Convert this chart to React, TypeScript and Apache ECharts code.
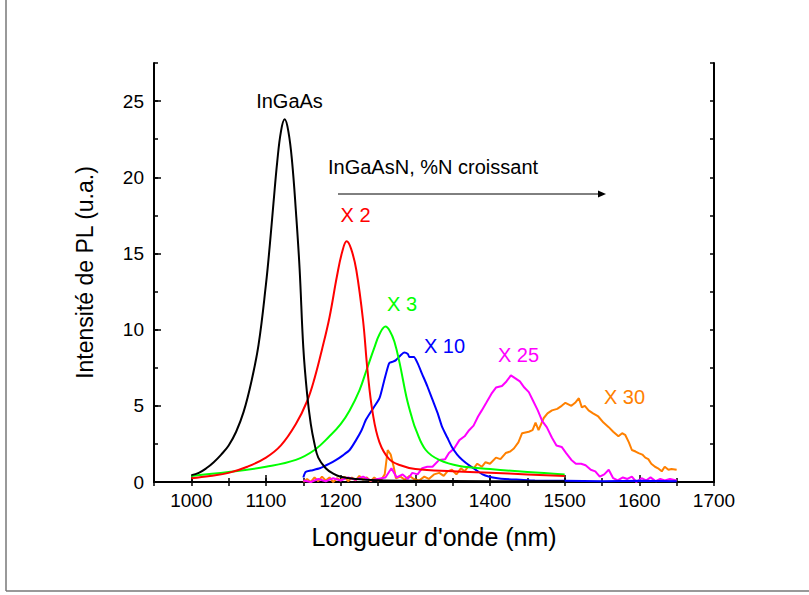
import React, { useEffect, useRef } from "react";
import * as echarts from "echarts";

// ---- Data (wavelength in nm, PL intensity in a.u.) ----
const inGaAsWl = [1000, 1010, 1020, 1030, 1040, 1050, 1060, 1070, 1080, 1090, 1100, 1105, 1110, 1115, 1120, 1125, 1130, 1135, 1140, 1145, 1150, 1155, 1160, 1165, 1170, 1180, 1190, 1200, 1220, 1250, 1300, 1400, 1500];
const inGaAsPl = [0.45, 0.6, 0.9, 1.3, 1.8, 2.4, 3.3, 4.6, 6.5, 9.0, 13.0, 15.5, 18.3, 21.0, 23.0, 23.8, 23.0, 21.0, 17.8, 14.0, 8.8, 5.8, 3.8, 2.5, 1.6, 0.9, 0.55, 0.35, 0.2, 0.12, 0.08, 0.05, 0.05];

const x2Wl = [1000, 1025, 1050, 1075, 1100, 1120, 1140, 1155, 1165, 1175, 1185, 1195, 1202, 1208, 1214, 1221, 1230, 1236, 1243, 1252, 1265, 1280, 1300, 1350, 1400, 1450, 1500];
const x2Pl = [0.25, 0.4, 0.6, 1.0, 1.6, 2.4, 3.8, 5.3, 6.8, 8.7, 10.8, 13.5, 15.1, 15.8, 15.3, 13.9, 10.6, 7.3, 4.5, 2.6, 1.5, 1.1, 0.85, 0.7, 0.6, 0.5, 0.4];

const x3Wl = [1000, 1050, 1100, 1140, 1165, 1185, 1200, 1212, 1225, 1235, 1245, 1252, 1260, 1266, 1272, 1279, 1288, 1295, 1301, 1314, 1332, 1359, 1400, 1450, 1500];
const x3Pl = [0.4, 0.65, 1.0, 1.45, 2.1, 3.0, 3.8, 4.7, 6.0, 7.4, 8.8, 9.7, 10.2, 9.9, 9.2, 7.8, 5.6, 4.3, 3.4, 2.1, 1.45, 1.05, 0.85, 0.65, 0.5];

const x10Wl = [1150, 1153, 1160, 1172, 1185, 1194, 1203, 1212, 1220, 1228, 1234, 1243, 1252, 1258, 1265, 1270, 1274, 1280, 1285, 1290, 1292, 1298, 1303, 1309, 1316, 1323, 1330, 1336, 1343, 1349, 1356, 1363, 1372, 1381, 1390, 1399, 1410, 1420, 1440, 1460, 1500, 1550, 1600, 1650];
const x10Pl = [0.3, 0.65, 0.75, 0.9, 1.2, 1.45, 1.75, 2.1, 2.7, 3.4, 4.1, 4.8, 5.5, 6.6, 7.8, 7.9, 8.0, 8.3, 8.5, 8.4, 8.2, 8.2, 7.8, 7.1, 6.3, 5.4, 4.5, 3.6, 2.9, 2.3, 1.8, 1.45, 1.1, 0.8, 0.5, 0.35, 0.25, 0.2, 0.15, 0.1, 0.08, 0.05, 0.08, 0.05];

const x25Wl = [1150, 1160, 1170, 1180, 1190, 1200, 1210, 1220, 1230, 1240, 1250, 1260, 1268, 1275, 1283, 1290, 1296, 1303, 1309, 1316, 1323, 1332, 1340, 1345, 1352, 1359, 1366, 1372, 1378, 1384, 1389, 1395, 1402, 1408, 1416, 1422, 1428, 1434, 1440, 1446, 1452, 1458, 1464, 1470, 1476, 1483, 1489, 1496, 1502, 1509, 1515, 1522, 1528, 1535, 1541, 1547, 1553, 1559, 1565, 1571, 1578, 1584, 1590, 1596, 1603, 1609, 1615, 1622, 1628, 1634, 1641, 1650];
const x25Pl = [0.1, 0.0, 0.2, 0.05, 0.25, 0.1, 0.3, 0.15, 0.35, 0.1, 0.2, 0.3, 0.9, 0.3, 0.5, 0.2, 0.6, 0.5, 0.9, 1.0, 1.0, 1.45, 1.5, 1.9, 2.2, 2.75, 3.0, 3.4, 3.7, 4.3, 4.7, 5.2, 5.8, 6.2, 6.3, 6.6, 7.0, 6.8, 6.6, 6.2, 5.9, 5.3, 4.7, 4.0, 3.6, 2.9, 2.4, 2.3, 1.9, 1.45, 1.2, 1.2, 1.1, 0.8, 0.7, 0.35, 0.5, 0.8, 0.25, 0.1, 0.3, 0.2, 0.35, 0.0, 0.25, 0.1, 0.3, 0.05, 0.2, 0.1, 0.2, 0.1];

const x30Wl = [1150, 1155, 1160, 1165, 1170, 1175, 1180, 1185, 1190, 1195, 1200, 1205, 1210, 1215, 1220, 1225, 1230, 1235, 1240, 1245, 1250, 1255, 1259, 1263, 1267, 1271, 1274, 1280, 1286, 1292, 1298, 1305, 1312, 1318, 1325, 1332, 1338, 1343, 1349, 1355, 1361, 1366, 1372, 1378, 1383, 1389, 1394, 1400, 1408, 1414, 1421, 1427, 1432, 1438, 1443, 1452, 1457, 1461, 1465, 1472, 1477, 1483, 1490, 1496, 1501, 1509, 1514, 1519, 1523, 1527, 1532, 1538, 1545, 1552, 1559, 1565, 1572, 1577, 1581, 1586, 1590, 1595, 1599, 1604, 1608, 1612, 1616, 1621, 1625, 1630, 1634, 1639, 1643, 1650];
const x30Pl = [0.0, 0.2, 0.0, 0.3, 0.05, 0.35, 0.1, 0.3, 0.0, 0.25, 0.1, 0.35, 0.05, 0.3, 0.1, 0.4, 0.15, 0.3, 0.05, 0.3, 0.1, 0.2, 0.5, 2.1, 1.8, 1.0, 0.25, 0.35, 0.15, 0.4, 0.2, 0.1, 0.35, 0.2, 0.5, 0.6, 0.4, 0.7, 0.8, 0.5, 0.9, 0.7, 1.1, 0.9, 1.2, 1.0, 1.3, 1.2, 1.6, 1.5, 1.9, 2.0, 2.2, 2.6, 3.2, 3.3, 3.4, 3.9, 3.4, 4.2, 4.5, 4.7, 4.8, 5.0, 5.2, 5.0, 5.2, 5.5, 4.9, 5.0, 4.7, 4.5, 4.3, 3.9, 3.6, 3.3, 3.0, 3.2, 3.1, 2.6, 2.1, 2.0, 1.9, 1.8, 1.6, 1.5, 1.2, 1.0, 0.9, 0.7, 1.0, 0.8, 0.85, 0.8];

const xMajorTicks = [1000, 1100, 1200, 1300, 1400, 1500, 1600, 1700];
const yMajorTicks = [0, 5, 10, 15, 20, 25];

const FONT = "'Liberation Sans', Arial, Helvetica, sans-serif";

const pairs = (xs: number[], ys: number[]) => xs.map((x, i) => [x, ys[i]]);

export default function App() {
  const ref = useRef<HTMLDivElement>(null);
  useEffect(() => {
    const chart = echarts.init(ref.current!, null, { renderer: "svg" });
    const axisLine = { show: true, lineStyle: { color: "#000", width: 2 } };
    const tickStyle = { color: "#000", width: 1.5 };
    const plain = (v: number) => String(v);
    const lineSeries = (name: string, xs: number[], ys: number[], color: string, smooth: number | boolean) => ({
      name,
      type: "line",
      data: pairs(xs, ys),
      showSymbol: false,
      symbol: "none",
      smooth,
      lineStyle: { color, width: 2 },
      itemStyle: { color },
      xAxisIndex: 0,
      yAxisIndex: 0,
    });
    chart.setOption({
      animation: false,
      backgroundColor: "#fff",
      grid: { left: 154, right: 95, top: 63, bottom: 113, containLabel: false },
      xAxis: [
        {
          type: "value",
          position: "bottom",
          min: 950,
          max: 1700,
          interval: 50,
          axisLine,
          axisTick: { show: true, inside: true, length: 7, customValues: xMajorTicks, lineStyle: tickStyle },
          axisLabel: { customValues: xMajorTicks, formatter: plain, fontSize: 19, color: "#000", margin: 9, fontFamily: FONT },
          splitLine: { show: false },
          name: "Longueur d'onde (nm)",
          nameLocation: "middle",
          nameGap: 42,
          nameTextStyle: { fontSize: 25, color: "#000", fontFamily: FONT },
        },
        {
          type: "value",
          position: "bottom",
          min: 950,
          max: 1700,
          interval: 50,
          axisLine: { show: false },
          axisTick: { show: true, inside: true, length: 4, lineStyle: tickStyle },
          axisLabel: { show: false },
          splitLine: { show: false },
        },
        {
          type: "value",
          position: "top",
          min: 950,
          max: 1700,
          interval: 50,
          axisLine,
          axisTick: { show: true, inside: true, length: 4, lineStyle: tickStyle },
          axisLabel: { show: false },
          splitLine: { show: false },
        },
      ],
      yAxis: [
        {
          type: "value",
          position: "left",
          min: 0,
          max: 27.5,
          interval: 2.5,
          axisLine,
          axisTick: { show: true, inside: true, length: 7, customValues: yMajorTicks, lineStyle: tickStyle },
          axisLabel: { customValues: yMajorTicks, formatter: plain, fontSize: 19, color: "#000", margin: 10, fontFamily: FONT },
          splitLine: { show: false },
          name: "Intensité de PL (u.a.)",
          nameLocation: "middle",
          nameGap: 58,
          nameRotate: 90,
          nameTextStyle: { fontSize: 23, color: "#000", fontFamily: FONT },
        },
        {
          type: "value",
          position: "left",
          min: 0,
          max: 27.5,
          interval: 2.5,
          axisLine: { show: false },
          axisTick: { show: true, inside: true, length: 4, lineStyle: tickStyle },
          axisLabel: { show: false },
          splitLine: { show: false },
        },
        {
          type: "value",
          position: "right",
          min: 0,
          max: 27.5,
          interval: 2.5,
          axisLine,
          axisTick: { show: true, inside: true, length: 4, lineStyle: tickStyle },
          axisLabel: { show: false },
          splitLine: { show: false },
        },
      ],
      series: [
        lineSeries("X 30", x30Wl, x30Pl, "#ff8000", false),
        lineSeries("X 25", x25Wl, x25Pl, "#ff00ff", false),
        lineSeries("X 10", x10Wl, x10Pl, "#0000ff", 0.2),
        lineSeries("X 3", x3Wl, x3Pl, "#00ff00", 0.4),
        lineSeries("X 2", x2Wl, x2Pl, "#ff0000", 0.4),
        lineSeries("InGaAs", inGaAsWl, inGaAsPl, "#000000", 0.4),
      ],
      graphic: [
        { type: "line", shape: { x1: 6, y1: 0, x2: 6, y2: 591 }, style: { stroke: "#777", lineWidth: 1.5 } },
        { type: "line", shape: { x1: 6, y1: 591, x2: 809, y2: 591 }, style: { stroke: "#777", lineWidth: 1.5 } },
        { type: "text", x: 289.5, y: 100.5, style: { text: "InGaAs", fill: "#000", font: `20px ${FONT}`, textAlign: "center", textVerticalAlign: "middle" } },
        { type: "text", x: 328, y: 167, style: { text: "InGaAsN, %N croissant", fill: "#000", font: `20px ${FONT}`, textAlign: "left", textVerticalAlign: "middle" } },
        { type: "line", shape: { x1: 338, y1: 194, x2: 600, y2: 194 }, style: { stroke: "#000", lineWidth: 1 } },
        { type: "polygon", shape: { points: [[598, 190.5], [606, 194], [598, 197.5]] }, style: { fill: "#000" } },
        { type: "text", x: 355.5, y: 214.5, style: { text: "X 2", fill: "#ff0000", font: `20px ${FONT}`, textAlign: "center", textVerticalAlign: "middle" } },
        { type: "text", x: 402, y: 304, style: { text: "X 3", fill: "#00ff00", font: `20px ${FONT}`, textAlign: "center", textVerticalAlign: "middle" } },
        { type: "text", x: 444.5, y: 346, style: { text: "X 10", fill: "#0000ff", font: `20px ${FONT}`, textAlign: "center", textVerticalAlign: "middle" } },
        { type: "text", x: 518.5, y: 355, style: { text: "X 25", fill: "#ff00ff", font: `20px ${FONT}`, textAlign: "center", textVerticalAlign: "middle" } },
        { type: "text", x: 624.5, y: 396.5, style: { text: "X 30", fill: "#ff8000", font: `20px ${FONT}`, textAlign: "center", textVerticalAlign: "middle" } },
      ],
    });
    return () => chart.dispose();
  }, []);
  return (
    <div
      ref={ref}
      style={{ position: "fixed", left: 0, top: 0, width: 809, height: 595, background: "#fff" }}
    />
  );
}
